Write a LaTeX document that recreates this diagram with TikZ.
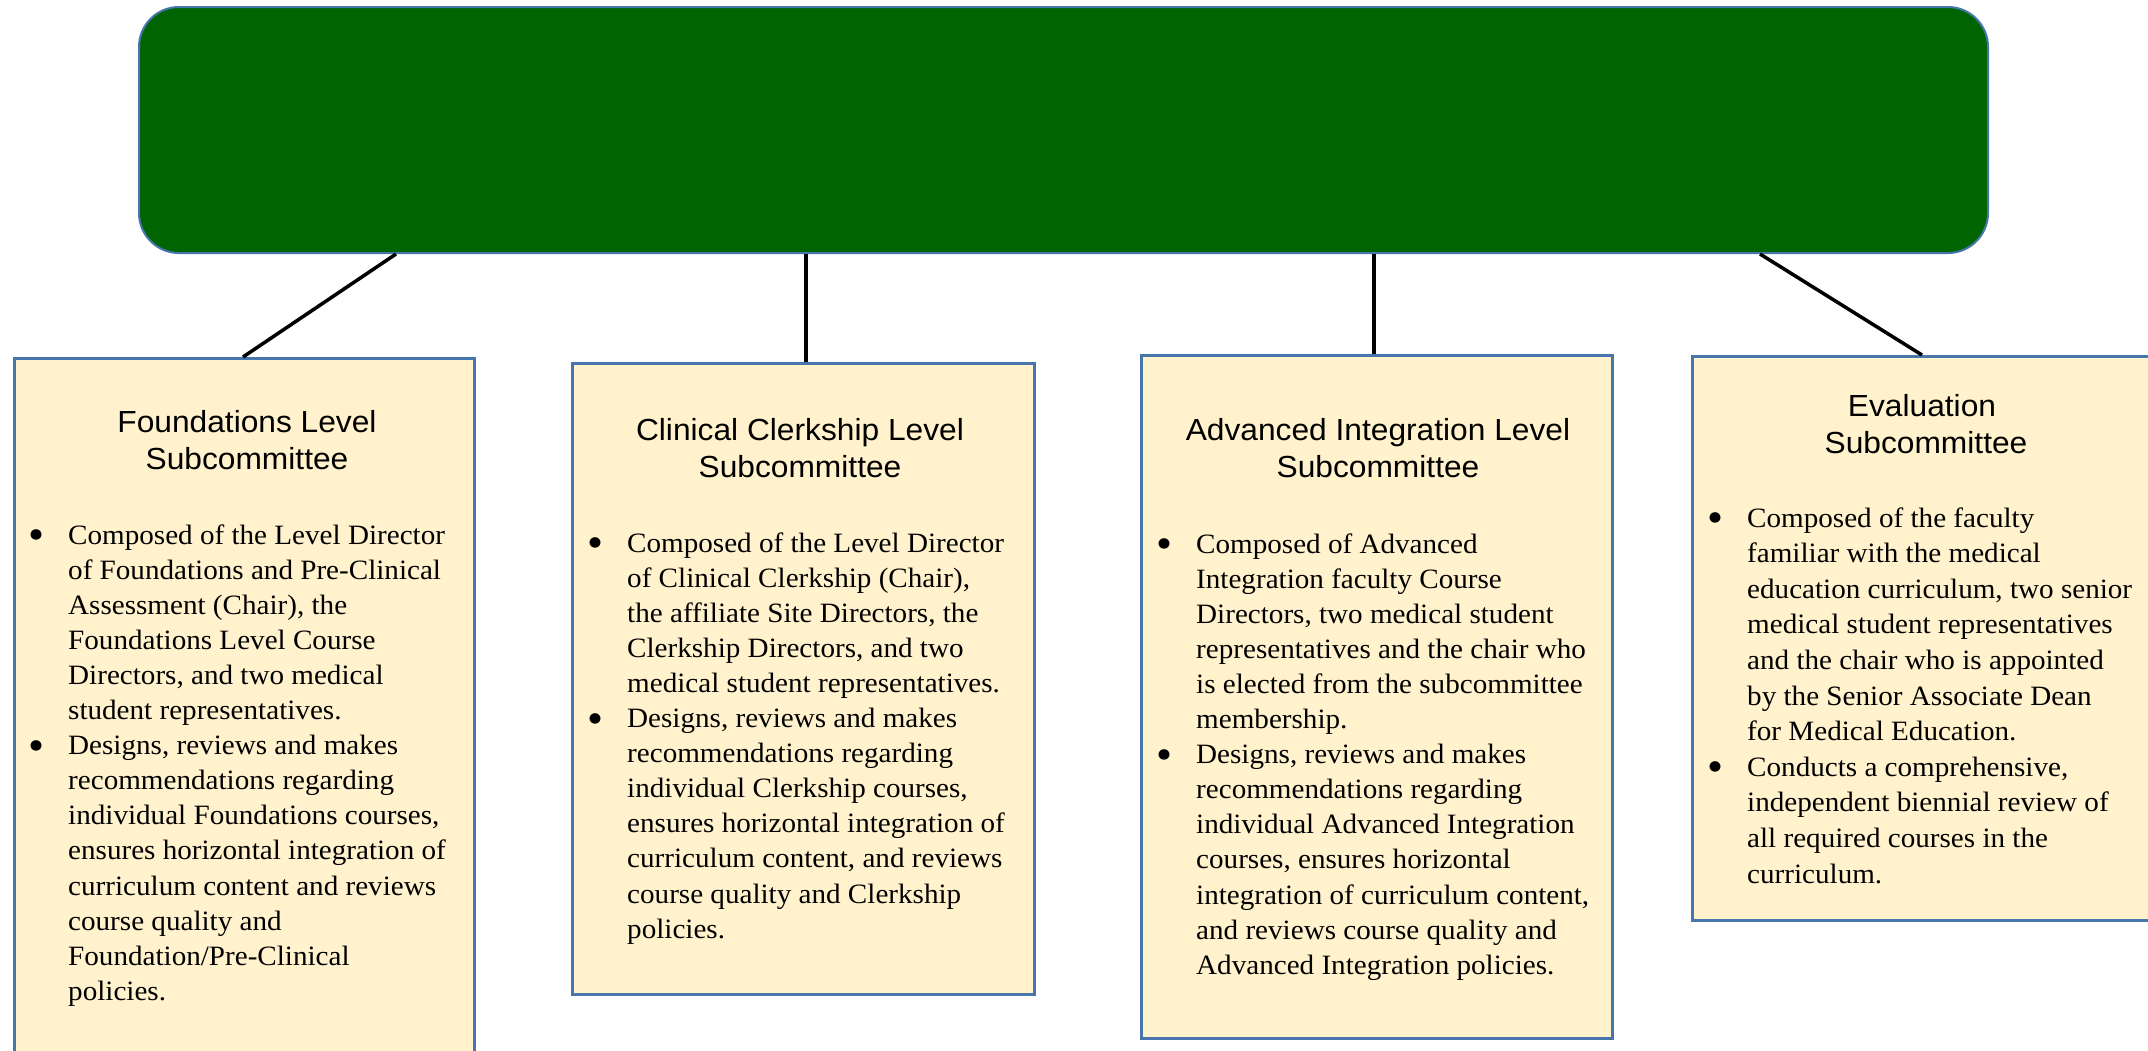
\documentclass[tikz,border=0pt]{standalone}
\usepackage{fontspec}
\setmainfont{Liberation Serif}
\newfontfamily\bodyfont{Liberation Serif}[FakeStretch=1.04]
\newfontfamily\titlefont{Liberation Sans}[FakeStretch=1.04]
\definecolor{topgreen}{RGB}{0,100,0}
\definecolor{edgeblue}{RGB}{70,118,172}
\definecolor{cream}{RGB}{255,242,204}
\newcommand{\bul}{\llap{\raisebox{-5.5pt}{\fontsize{44}{44}\selectfont\textbullet}\hspace{24pt}}}
\begin{document}
\begin{tikzpicture}[x=1pt,y=-1pt,
  boxstyle/.style={draw=edgeblue, line width=2.5pt, fill=cream, rectangle, anchor=north west, inner sep=0pt},
  conn/.style={line width=3.5pt, draw=black},
  ttl/.style={anchor=base, inner sep=0pt, font=\titlefont\fontsize{30.5}{37.5}\selectfont},
  body/.style={anchor=base west, inner sep=0pt, font=\bodyfont\fontsize{28}{35.1}\selectfont}]
\useasboundingbox (0,0) rectangle (2148,1050);
\fill[white] (0,0) rectangle (2148,1050);

\node[draw=edgeblue, line width=2pt, fill=topgreen, rounded corners=40pt, minimum width=1849pt, minimum height=246pt, anchor=north west, inner sep=0pt] (top) at (138,6) {};

\node[boxstyle, minimum width=460pt, minimum height=740pt] (b1) at (13,357) {};
\node[boxstyle, minimum width=462pt, minimum height=631pt] (b2) at (571,362) {};
\node[boxstyle, minimum width=471pt, minimum height=683pt] (b3) at (1140,354) {};
\node[boxstyle, minimum width=478pt, minimum height=564pt] (b4) at (1691,355) {};

\path (top.south west) ++(258,0) coordinate (s1);
\path (top.south west) ++(668,0) coordinate (s2);
\path (top.south west) ++(1236,0) coordinate (s3);
\path (top.south west) ++(1622,0) coordinate (s4);
\path (b1.north west) ++(230,0) coordinate (e1);
\path (b2.north west) ++(235,0) coordinate (e2);
\path (b3.north west) ++(234,0) coordinate (e3);
\path (b4.north west) ++(231,0) coordinate (e4);
\draw[conn] (s1) -- (e1);
\draw[conn] (s2) -- (e2);
\draw[conn] (s3) -- (e3);
\draw[conn] (s4) -- (e4);

\node[ttl] (t1) at (247,432) {\begin{tabular}[t]{@{}c@{}}Foundations Level\\Subcommittee\end{tabular}};
\node[ttl] (t2) at (800,440) {\begin{tabular}[t]{@{}c@{}}Clinical Clerkship Level\\Subcommittee\end{tabular}};
\node[ttl] (t3) at (1378,440) {\begin{tabular}[t]{@{}c@{}}Advanced Integration Level\\Subcommittee\end{tabular}};
\node[ttl] (t4) at (1926,416) {\begin{tabular}[t]{@{}c@{}}Evaluation\hspace*{8pt}\\Subcommittee\end{tabular}};

\node[body] (x1) at (68,544) {\begin{tabular}[t]{@{}l@{}}
\bul Composed of the Level Director\\
of Foundations and Pre-Clinical\\
Assessment (Chair), the\\
Foundations Level Course\\
Directors, and two medical\\
student representatives.\\
\bul Designs, reviews and makes\\
recommendations regarding\\
individual Foundations courses,\\
ensures horizontal integration of\\
curriculum content and reviews\\
course quality and\\
Foundation/Pre-Clinical\\
policies.
\end{tabular}};

\node[body] (x2) at (627,552) {\begin{tabular}[t]{@{}l@{}}
\bul Composed of the Level Director\\
of Clinical Clerkship (Chair),\\
the affiliate Site Directors, the\\
Clerkship Directors, and two\\
medical student representatives.\\
\bul Designs, reviews and makes\\
recommendations regarding\\
individual Clerkship courses,\\
ensures horizontal integration of\\
curriculum content, and reviews\\
course quality and Clerkship\\
policies.
\end{tabular}};

\node[body] (x3) at (1196,553) {\begin{tabular}[t]{@{}l@{}}
\bul Composed of Advanced\\
Integration faculty Course\\
Directors, two medical student\\
representatives and the chair who\\
is elected from the subcommittee\\
membership.\\
\bul Designs, reviews and makes\\
recommendations regarding\\
individual Advanced Integration\\
courses, ensures horizontal\\
integration of curriculum content,\\
and reviews course quality and\\
Advanced Integration policies.
\end{tabular}};

\node[body, font=\bodyfont\fontsize{28}{35.6}\selectfont] (x4) at (1747,527) {\begin{tabular}[t]{@{}l@{}}
\bul Composed of the faculty\\
familiar with the medical\\
education curriculum, two senior\\
medical student representatives\\
and the chair who is appointed\\
by the Senior Associate Dean\\
for Medical Education.\\
\bul Conducts a comprehensive,\\
independent biennial review of\\
all required courses in the\\
curriculum.
\end{tabular}};
\end{tikzpicture}
\end{document}
